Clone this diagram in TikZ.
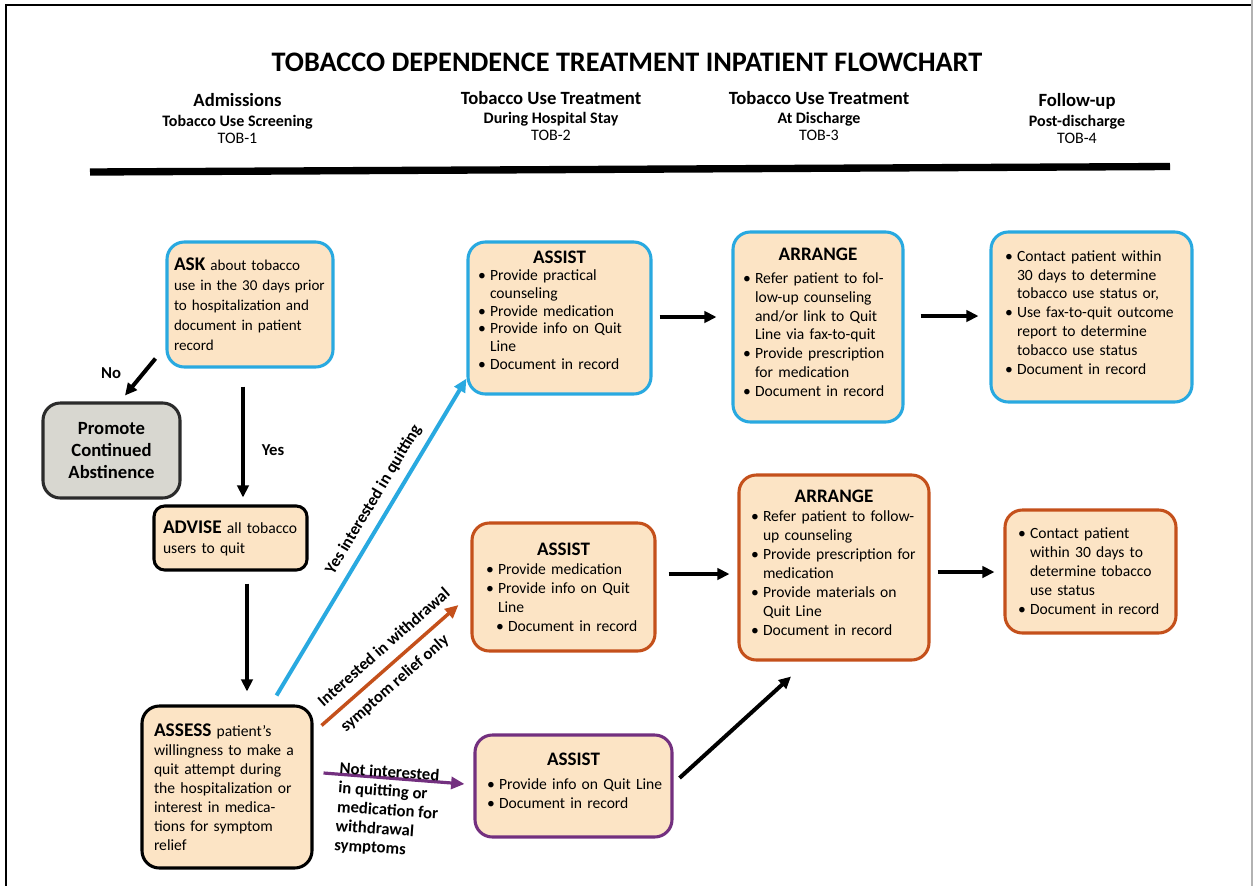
\documentclass[tikz,border=0pt]{standalone}
\usepackage{fontspec}
\setmainfont{Carlito}
\usepackage{tikz}
\usetikzlibrary{arrows.meta,calc}
\definecolor{QuitBlue}{HTML}{29A9E0}
\definecolor{QuitOrange}{HTML}{C4501B}
\definecolor{QuitPurple}{HTML}{73307F}
\definecolor{Peach}{HTML}{FCE4C5}
\definecolor{Stone}{HTML}{D8D7D0}
\definecolor{Ink}{HTML}{2B2B2B}

\newdimen\pxu \pxu=0.75pt
\newcommand{\fsz}[2]{\fontsize{#1}{#2}\selectfont}
\newcommand{\bul}[1]{\hangindent=9pt\hangafter=1\noindent\hbox to 9pt{\textbullet\hss}#1\par}
\newcommand{\boxhead}[1]{{\centering\bfseries\fsz{14.3}{16}#1\par}}
\newcommand{\padb}[1]{\par\nointerlineskip\hbox{\vrule width 0pt height #1 depth 0pt}}

\begin{document}
\begin{tikzpicture}[x=0.75pt,y=-0.75pt,
  box/.style={draw,fill=Peach,rounded corners=13pt,line width=2.3pt,inner ysep=0pt},
  boxdim/.style 2 args={minimum width={#1*0.75pt},minimum height={#2*0.75pt},inner xsep=0pt,text width={#1*0.75pt}},
  body/.style 2 args={font={\fsz{11.7}{#1}\hyphenpenalty=10000 \exhyphenpenalty=10000 },execute at begin node={\leftskip=#2\pxu\relax}},
  hdr/.style={font=\bfseries\fsz{12}{12.75},align=center,inner sep=0pt},
  lab/.style={font=\bfseries\fsz{12.5}{14},inner sep=0pt},
  blk/.style={line width=3pt,-{Triangle[length=9pt,width=8.5pt]}},
  diag/.style={line width=#1,-{Triangle[length=10pt,width=9pt]}}]
  \useasboundingbox (0,0) rectangle (1254,886);
  % frame and header
  \draw[line width=2.2pt] (1252,5) -- (6,5) -- (6,886);
  \draw[black!30,line width=0.8pt] (1252,0) -- (1252,886);
  \node[font=\bfseries\fsz{21.2}{25}] (title) at (627,62) {TOBACCO DEPENDENCE TREATMENT INPATIENT FLOWCHART};
  \node[hdr] (colA) at (237.5,118.5) {{\fsz{14}{16}Admissions}\\[1.9pt]Tobacco Use Screening\\{\mdseries TOB-1}};
  \node[hdr] (colB) at (551,116) {{\fsz{14}{16}Tobacco Use Treatment}\\[1.9pt]During Hospital Stay\\{\mdseries TOB-2}};
  \node[hdr] (colC) at (819,116) {{\fsz{14}{16}Tobacco Use Treatment}\\[1.9pt]At Discharge\\{\mdseries TOB-3}};
  \node[hdr] (colD) at (1077,118.5) {{\fsz{14}{16}Follow-up}\\[1.9pt]Post-discharge\\{\mdseries TOB-4}};
  \draw[line width=5.5pt] (90,172) -- (1170,166.5);

  % left column
  \node[box,draw=QuitBlue,boxdim={166}{125},body={15}{7},font={\fsz{11.3}{15}}] (ask) at (250,304.5)
    {\textbf{\fsz{14.5}{15}ASK} about tobacco\newline use in the 30 days prior\newline to hospitalization and\newline document in patient\newline record};
  \node[box,draw=Ink,fill=Stone,boxdim={137}{95},align=center,font=\bfseries\fsz{14}{16.5}] (promote) at (111.5,450.5)
    {Promote\\Continued\\Abstinence};
  \node[box,draw=black,rounded corners=8pt,boxdim={153}{64},body={15}{9}] (advise) at (230.5,538)
    {\textbf{\fsz{14.5}{15}ADVISE} all tobacco\newline users to quit};
  \node[box,draw=black,boxdim={170}{162},body={14.3}{12}] (assess) at (227,787)
    {\textbf{\fsz{14.5}{15}ASSESS} patient's\newline willingness to make a\newline quit attempt during\newline the hospitalization or\newline interest in medica-\newline tions for symptom\newline relief};

  % quitting row
  \node[box,draw=QuitBlue,boxdim={183}{152},body={13.3}{10}] (assistA) at (559.5,318)
    {\boxhead{ASSIST}\bul{Provide practical\newline counseling}\bul{Provide medication}\bul{Provide info on Quit\newline Line}\bul{Document in record}\padb{12pt}};
  \node[box,draw=QuitBlue,boxdim={170}{190},body={14.1}{10}] (arrangeA) at (818,327)
    {\boxhead{ARRANGE}\vspace{3.5pt}\bul{Refer patient to fol-\newline low-up counseling\newline and/or link to Quit\newline Line via fax-to-quit}\bul{Provide prescription\newline for medication}\bul{Document in record}\padb{7.5pt}};
  \node[box,draw=QuitBlue,boxdim={201}{170},body={14.1}{14}] (followA) at (1091.5,317)
    {\bul{Contact patient within\newline 30 days to determine\newline tobacco use status or,}\bul{Use fax-to-quit outcome\newline report to determine\newline tobacco use status}\bul{Document in record}\padb{7pt}};

  % withdrawal relief row
  \node[box,draw=QuitOrange,boxdim={183}{128},body={14.3}{14}] (assistB) at (563.5,587)
    {\boxhead{ASSIST}\bul{Provide medication}\bul{Provide info on Quit\newline Line}\noindent\hspace*{7.5pt}\hbox to 9pt{\textbullet\hss}Document in record};
  \node[box,draw=QuitOrange,boxdim={190}{185},body={14.25}{12}] (arrangeB) at (834,567.5)
    {\boxhead{ARRANGE}\bul{Refer patient to follow-\newline up counseling}\bul{Provide prescription for\newline medication}\bul{Provide materials on\newline Quit Line}\bul{Document in record}\padb{6.5pt}};
  \node[box,draw=QuitOrange,boxdim={171}{123},body={14.25}{13}] (followB) at (1090.5,571.5)
    {\bul{Contact patient\newline within 30 days to\newline determine tobacco\newline use status}\bul{Document in record}};

  % not interested row
  \node[box,draw=QuitPurple,boxdim={197}{102},body={14.5}{12}] (assistC) at (573.5,786)
    {\boxhead{ASSIST}\vspace{3.5pt}\bul{Provide info on Quit Line}\bul{Document in record}\padb{8pt}};

  % connectors
  \draw[blk] ($(ask.south west)+(-10,-10)$) -- ($(promote.north)+(13.5,-6)$);
  \node[lab] (no) at (111,373) {No};
  \draw[blk] ($(ask.south)+(-7,18)$) -- ($(advise.north)+(12.5,-7)$);
  \node[lab] (yes) at (273,450) {Yes};
  \draw[blk] ($(advise.south)+(16.5,12)$) -- ($(assess.north)+(20,-13)$);
  \draw[diag=3pt,QuitBlue] ($(assess.north east)+(-37,-9)$) -- node[lab,text=black,sloped,above=6pt,pos=0.59] (lblA) {Yes interested in quitting} ($(assistA.south west)+(0,-17)$);
  \draw[diag=2.6pt,QuitOrange] ($(assess.north east)+(8,21)$) -- node[lab,text=black,sloped,align=left,pos=0.54] (lblB) {Interested in withdrawal\\[11.5pt]symptom relief only} ($(assistB.west)+(-12,18)$);
  \draw[diag=2.4pt,QuitPurple] ($(assess.east)+(10,-14)$) -- ($(assistC.west)+(-9,-2)$);
  \node[lab,font=\bfseries\fsz{12.5}{14.3},align=left,rotate=-4,anchor=north west] (lblC) at (340,762)
    {Not interested\\in quitting or\\medication for\\withdrawal\\symptoms};
  \draw[blk] ($(assistA.east)+(7,-1)$) -- ($(arrangeA.west)+(-15,-10)$);
  \draw[blk] ($(arrangeA.east)+(16,-11)$) -- ($(followA.west)+(-11,-1)$);
  \draw[blk] ($(assistB.east)+(12,-13)$) -- ($(arrangeB.west)+(-8,6.5)$);
  \draw[blk] ($(arrangeB.east)+(7,4.5)$) -- ($(followB.west)+(-9,0.5)$);
  \draw[blk] ($(assistC.east)+(6,-8)$) -- ($(arrangeB.south)+(-43,15)$);
\end{tikzpicture}
\end{document}
